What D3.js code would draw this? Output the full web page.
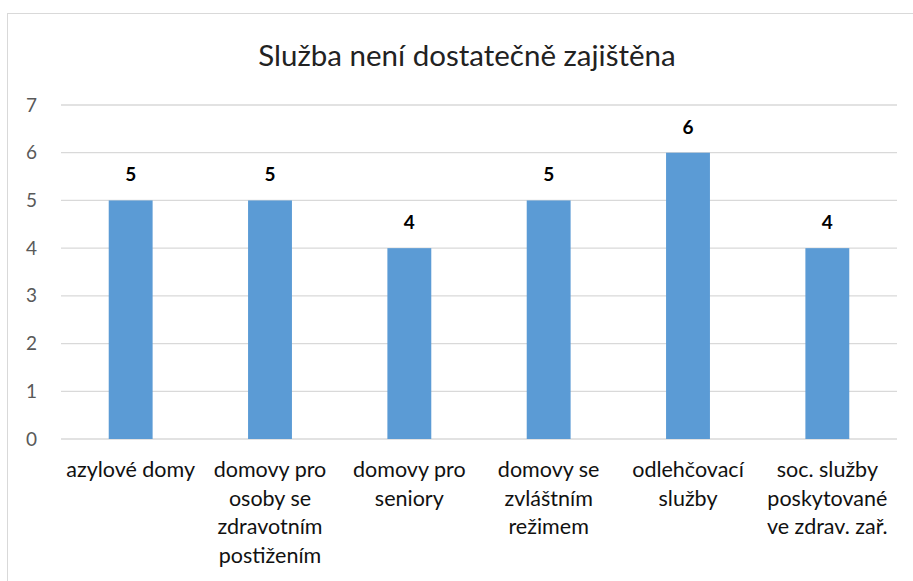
<!DOCTYPE html>
<html><head><meta charset="utf-8">
<script src="https://cdn.jsdelivr.net/npm/d3@7"></script>
<style>body{margin:0;background:#fff;}svg{display:block;}</style>
</head><body>
<script>
const title = "Služba není dostatečně zajištěna";
const categories = [
  ["azylové domy"],
  ["domovy pro","osoby se","zdravotním","postižením"],
  ["domovy pro","seniory"],
  ["domovy se","zvláštním","režimem"],
  ["odlehčovací","služby"],
  ["soc. služby","poskytované","ve zdrav. zař."]
];
const values = [5,5,4,5,6,4];
const yTicks = [0,1,2,3,4,5,6,7];

const W=913,H=581;
const font = "Lato, 'Open Sans', sans-serif";
const svg = d3.select("body").append("svg").attr("width",W).attr("height",H);
svg.append("rect").attr("x",7.5).attr("y",13.5).attr("width",W).attr("height",H)
  .attr("fill","#fff").attr("stroke","#d9d9d9");

const x = d3.scaleBand().domain(d3.range(values.length)).range([61,897]).paddingInner(0.685).paddingOuter(0.3425);
const y = d3.scaleLinear().domain([0,7]).range([439,105]);

svg.append("text").attr("x",467).attr("y",66).attr("text-anchor","middle")
  .attr("font-family",font).attr("font-size",29.5).attr("fill","#222").text(title);

const grid = svg.append("g");
grid.selectAll("line").data(yTicks).join("line")
  .attr("x1",61).attr("x2",897).attr("y1",d=>y(d)).attr("y2",d=>y(d))
  .attr("stroke","#d9d9d9").attr("stroke-width",1.3);

const yAxis = svg.append("g").attr("transform","translate(37,0)")
  .call(d3.axisLeft(y).tickValues(yTicks).tickFormat(d3.format("d")).tickSize(0).tickPadding(0));
yAxis.select(".domain").remove();
yAxis.selectAll("text").attr("font-family",font).attr("font-size",19).attr("fill","#595959");

svg.append("g").selectAll("rect").data(values).join("rect")
  .attr("x",(d,i)=>x(i)).attr("width",x.bandwidth())
  .attr("y",d=>y(d)).attr("height",d=>y(0)-y(d)).attr("fill","#5b9bd5");

svg.append("g").selectAll("text").data(values).join("text")
  .attr("x",(d,i)=>x(i)+x.bandwidth()/2).attr("y",d=>y(d)-19)
  .attr("text-anchor","middle").attr("font-family",font).attr("font-weight","bold")
  .attr("font-size",19).attr("fill","#000").text(d=>d);

const cat = svg.append("g").selectAll("text").data(categories).join("text")
  .attr("text-anchor","middle").attr("font-family",font).attr("font-size",21.5).attr("fill","#111");
cat.each(function(lines,i){
  d3.select(this).selectAll("tspan").data(lines).join("tspan")
    .attr("x",x(i)+x.bandwidth()/2).attr("y",(d,j)=>477+j*28.5).text(d=>d);
});
</script>
</body></html>
